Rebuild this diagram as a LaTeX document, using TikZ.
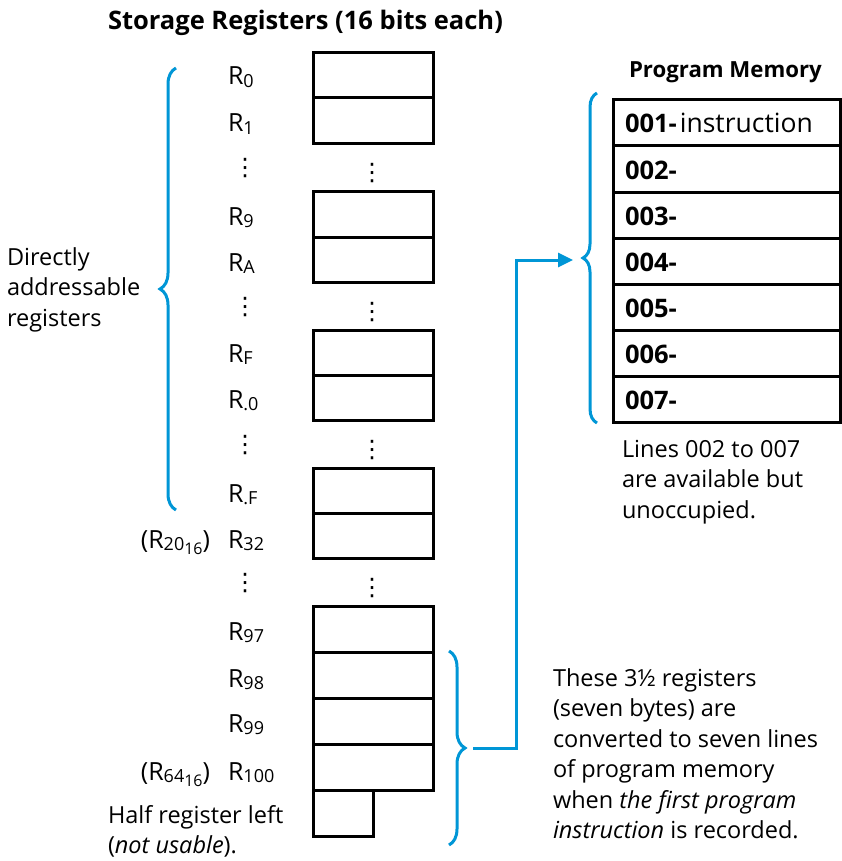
\documentclass[tikz,border=0pt]{standalone}
\usepackage{fontspec}
\setmainfont{Open Sans}
\newfontfamily\dejavu{DejaVu Sans}
\usetikzlibrary{decorations.pathreplacing,arrows.meta}
\definecolor{hpblue}{HTML}{0096D6}
\newcommand\sbs[1]{\raisebox{-2.5pt}{\fontsize{18}{18}\selectfont #1}}
\newcommand\sbss[1]{\raisebox{-4pt}{\fontsize{16}{16}\selectfont #1}}
\newcommand\lns[1]{\vtop{\baselineskip=30.5pt\lineskiplimit=-20pt #1}}
\begin{document}
\begin{tikzpicture}[x=1pt,y=-1pt,
  every node/.style={inner sep=0pt, outer sep=0pt},
  reg/.style={draw, line width=3pt, minimum width=120pt, anchor=north west},
  pm/.style={draw, line width=3pt, minimum width=227pt, minimum height=46pt, anchor=north west},
  lbl/.style={anchor=base west, font=\fontsize{25}{30}\selectfont},
  body/.style={anchor=base west, font=\fontsize{23.5}{30.5}\selectfont},
  row/.style={anchor=base west, font=\fontsize{25.5}{30}\selectfont},
  dts/.style={font=\dejavu\fontsize{24}{24}\selectfont},
  brc/.style={draw=hpblue, line width=3pt, decorate},
  conn/.style={draw=hpblue, line width=3pt, -{Triangle[length=15pt,width=14pt]}},
]
\useasboundingbox (0,0) rectangle (842,861);

% titles
\node[anchor=base west, font=\bfseries\fontsize{25.5}{30}\selectfont] (title) at (108,30) {Storage Registers (16 bits each)};
\node[anchor=base west, font=\bfseries\fontsize{22.2}{25}\selectfont] (pmtitle) at (629,78) {Program Memory};

% registers
\foreach \n/\t/\h in {r0/53/45, r1/98/46, r9/191/46, rA/237/45, rF/330/45, rp0/375/45, rpF/468/45, r32/513/45, r97/606/46, r98/652/46, r99/698/46, r100/744/46}
  \node[reg, minimum height=\h pt] (\n) at (313,\t) {};
\node[reg, minimum width=60pt, minimum height=46pt] (half) at (313,790) {};

% register labels
\node[lbl] (lr0) at (228,85) {R\sbs{0}};
\node[lbl] (lr1) at (228,132) {R\sbs{1}};
\node[lbl] (lr9) at (228,225) {R\sbs{9}};
\node[lbl] (lrA) at (228,271) {R\sbs{A}};
\node[lbl] (lrF) at (228,362) {R\sbs{F}};
\node[lbl] (lrp0) at (228,408) {R\sbs{.0}};
\node[lbl] (lrpF) at (228,502) {R\sbs{.F}};
\node[lbl] (lr32) at (228,548) {R\sbs{32}};
\node[lbl] (lr97) at (228,640) {R\sbs{97}};
\node[lbl] (lr98) at (228,687) {R\sbs{98}};
\node[lbl] (lr99) at (228,732) {R\sbs{99}};
\node[lbl] (lr100) at (228,780) {R\sbs{100}};
\node[lbl, anchor=base east] (h20) at (210,548) {(R\sbs{20\sbss{16}})};
\node[lbl, anchor=base east] (h64) at (210,780) {(R\sbs{64\sbss{16}})};

% vertical dots
\node[dts] (d1a) at (245,168) {⋮};
\node[dts] (d1b) at (372,173.5) {⋮};
\node[dts] (d2a) at (245,307) {⋮};
\node[dts] (d2b) at (372,312.5) {⋮};
\node[dts] (d3a) at (245,445.5) {⋮};
\node[dts] (d3b) at (372,450.5) {⋮};
\node[dts] (d4a) at (245,583.5) {⋮};
\node[dts] (d4b) at (372,588.5) {⋮};

% texts
\node[body] (dir) at (7,265) {\lns{\hbox{Directly}\hbox{addressable}\hbox{registers}}};
\node[body] (halftxt) at (108,823) {\lns{\hbox{Half register left}\hbox{(\textit{not usable}).}}};
\node[body] (these) at (553,686) {\lns{\hbox{These 3½ registers}\hbox{(seven bytes) are}\hbox{converted to seven lines}\hbox{of program memory}\hbox{when \textit{the first program}}\hbox{\textit{instruction} is recorded.}}};
\node[body] (avail) at (622,457) {\lns{\hbox{Lines 002 to 007}\hbox{are available but}\hbox{unoccupied.}}};

% program memory
\foreach \i/\t in {1/100, 2/146, 3/192, 4/238, 5/284, 6/330, 7/376}
  \node[pm] (p\i) at (613,\t) {};
\node[row] (t1) at (625,133) {\textbf{001-}\hspace{3pt}{\fontsize{26.5}{30}\selectfont instruction}};
\node[row] (t2) at (625,179) {\textbf{002-}};
\node[row] (t3) at (625,225) {\textbf{003-}};
\node[row] (t4) at (625,271) {\textbf{004-}};
\node[row] (t5) at (625,317) {\textbf{005-}};
\node[row] (t6) at (625,363) {\textbf{006-}};
\node[row] (t7) at (625,409) {\textbf{007-}};

% braces
\path[brc, decoration={brace, amplitude=16pt}] (176,510) -- (176,68);
\path[brc, decoration={brace, amplitude=14pt}] (597,423) -- (597,93);
\path[brc, decoration={brace, amplitude=16pt}] (449,651) -- (449,845);

% connector
\coordinate (regbrace) at (473,748);
\coordinate (pmbrace) at (573,260);
\draw[conn] (regbrace) -- (516,748) |- (pmbrace);
\end{tikzpicture}
\end{document}
